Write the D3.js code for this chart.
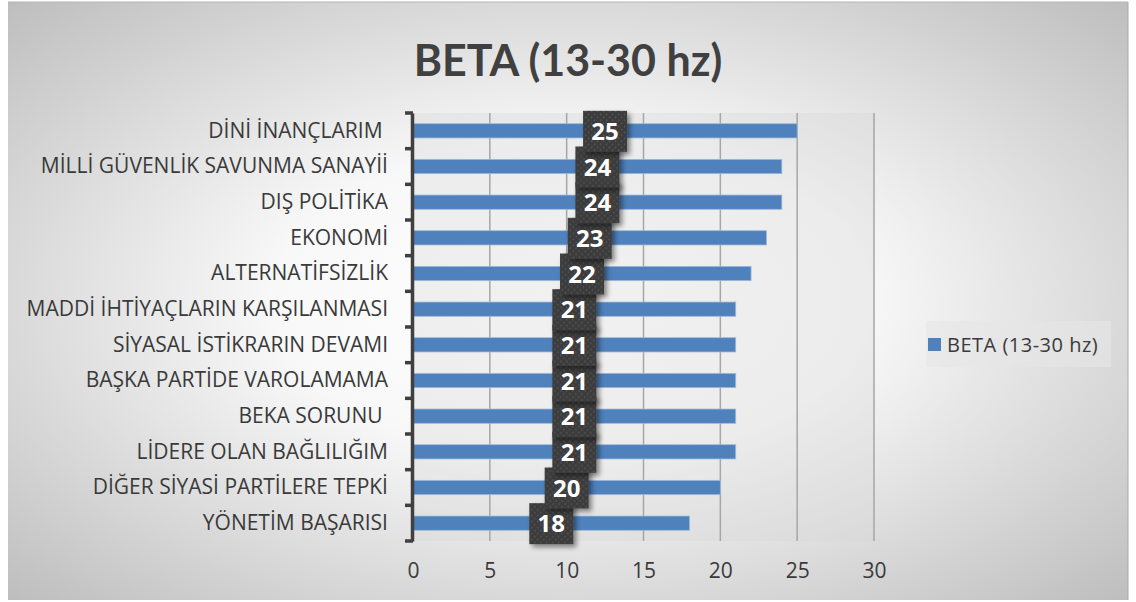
<!DOCTYPE html>
<html>
<head>
<meta charset="utf-8">
<script src="https://cdn.jsdelivr.net/npm/d3@7"></script>
<style>
  html, body { margin: 0; padding: 0; background: #ffffff; }
  svg { display: block; }
</style>
</head>
<body>
<svg id="chart" width="1136" height="602"></svg>
<script>
// Categories, top to bottom as shown
const categories = [
  "DİNİ İNANÇLARIM ",
  "MİLLİ GÜVENLİK SAVUNMA SANAYİİ",
  "DIŞ POLİTİKA",
  "EKONOMİ",
  "ALTERNATİFSİZLİK",
  "MADDİ İHTİYAÇLARIN KARŞILANMASI",
  "SİYASAL İSTİKRARIN DEVAMI",
  "BAŞKA PARTİDE VAROLAMAMA",
  "BEKA SORUNU ",
  "LİDERE OLAN BAĞLILIĞIM",
  "DİĞER SİYASİ PARTİLERE TEPKİ",
  "YÖNETİM BAŞARISI"
];
const values = [25, 24, 24, 23, 22, 21, 21, 21, 21, 21, 20, 18];
const xTicks = [0, 5, 10, 15, 20, 25, 30];
const seriesName = "BETA (13-30 hz)";
const chartTitle = "BETA (13-30 hz)";

const svg = d3.select("#chart");
const defs = svg.append("defs");

// Background: radial gradient, bright centre fading to grey edges
const rg = defs.append("radialGradient").attr("id", "bg")
  .attr("cx", "50%").attr("cy", "50%").attr("r", "75%");
rg.append("stop").attr("offset", "0%").attr("stop-color", "#ffffff");
rg.append("stop").attr("offset", "35%").attr("stop-color", "#f8f8f8");
rg.append("stop").attr("offset", "100%").attr("stop-color", "#b8b8b8");

// Dotted texture for the label boxes
const pat = defs.append("pattern").attr("id", "dots")
  .attr("width", 6).attr("height", 6).attr("patternUnits", "userSpaceOnUse");
pat.append("rect").attr("width", 6).attr("height", 6).attr("fill", "#3b3b3b");
pat.append("circle").attr("cx", 1.5).attr("cy", 1.5).attr("r", 0.9).attr("fill", "#565656");
pat.append("circle").attr("cx", 4.5).attr("cy", 4.5).attr("r", 0.9).attr("fill", "#565656");

const shadow = defs.append("filter").attr("id", "shadow")
  .attr("x", "-30%").attr("y", "-30%").attr("width", "170%").attr("height", "170%");
shadow.append("feDropShadow").attr("dx", 3).attr("dy", 3)
  .attr("stdDeviation", 2.5).attr("flood-color", "#000").attr("flood-opacity", 0.45);

// Chart frame
svg.append("rect").attr("x", 8).attr("y", 2).attr("width", 1120).attr("height", 598)
  .attr("fill", "url(#bg)");
svg.append("line").attr("x1", 1128).attr("x2", 1128).attr("y1", 2).attr("y2", 600)
  .attr("stroke", "#a9a9a9").attr("stroke-width", 1);
svg.append("line").attr("x1", 8).attr("x2", 1128).attr("y1", 2).attr("y2", 2)
  .attr("stroke", "#b5b5b5").attr("stroke-width", 1);

// Title
svg.append("text").attr("x", 568).attr("y", 76)
  .attr("text-anchor", "middle")
  .attr("font-family", "Lato, 'Open Sans', sans-serif")
  .attr("font-weight", 700).attr("font-size", 43)
  .attr("fill", "#404040")
  .text(chartTitle);

// Plot area
const plot = { left: 413, right: 874, top: 113, bottom: 541 };
const x = d3.scaleLinear().domain([0, 30]).range([plot.left, plot.right]);
const y = d3.scaleBand().domain(categories).range([plot.top, plot.bottom])
  .paddingInner(0.6).paddingOuter(0.3);
const yb = d3.scaleBand().domain(categories).range([plot.top, plot.bottom]);

svg.append("rect").attr("x", plot.left).attr("y", plot.top)
  .attr("width", plot.right - plot.left).attr("height", plot.bottom - plot.top)
  .attr("fill", "#d8d8d8").attr("fill-opacity", 0.35);

// Vertical gridlines
svg.append("g").selectAll("line").data(xTicks.slice(1)).join("line")
  .attr("x1", d => x(d)).attr("x2", d => x(d))
  .attr("y1", plot.top).attr("y2", plot.bottom)
  .attr("stroke", "#a6a6a6").attr("stroke-width", 1.5);

// Bars
svg.append("g").selectAll("rect").data(values).join("rect")
  .attr("x", x(0))
  .attr("y", (d, i) => y(categories[i]))
  .attr("width", d => x(d) - x(0))
  .attr("height", y.bandwidth())
  .attr("fill", "#4f81bd")
  .attr("stroke", "#9fb8d8").attr("stroke-width", 0.8);

// Category axis
const yAxis = d3.axisLeft(yb).tickSize(0).tickPadding(24);
const gy = svg.append("g").attr("transform", `translate(${plot.left - 1},0)`).call(yAxis);
gy.select(".domain").attr("stroke", "#404040").attr("stroke-width", 3.5);
gy.selectAll("text")
  .attr("font-family", "'Open Sans', sans-serif").attr("font-size", 21)
  .style("white-space", "pre")
  .attr("fill", "#3a3a3a");
// Boundary tick marks between categories
const bounds = categories.map(c => yb(c)).concat([plot.bottom]);
svg.append("g").selectAll("line").data(bounds).join("line")
  .attr("x1", plot.left - 8).attr("x2", plot.left)
  .attr("y1", d => d).attr("y2", d => d)
  .attr("stroke", "#404040").attr("stroke-width", 3.5);

// Value axis labels
const xAxis = d3.axisBottom(x).tickValues(xTicks).tickSize(0).tickPadding(22);
const gx = svg.append("g").attr("transform", `translate(0,${plot.bottom})`).call(xAxis);
gx.select(".domain").remove();
gx.selectAll("text")
  .attr("font-family", "'Open Sans', sans-serif").attr("font-size", 21)
  .attr("fill", "#3a3a3a");

// Data labels: dark boxes at the bar midpoint, drawn from the bottom up
const lab = svg.append("g");
const order = d3.range(values.length).reverse();
order.forEach(i => {
  const cx = x(values[i] / 2);
  const cy = y(categories[i]) + y.bandwidth() / 2;
  const g = lab.append("g").attr("transform", `translate(${cx},${cy})`);
  g.append("rect").attr("x", -22).attr("y", -20).attr("width", 44).attr("height", 41)
    .attr("fill", "url(#dots)").attr("filter", "url(#shadow)");
  g.append("text").attr("x", 0).attr("y", 9)
    .attr("text-anchor", "middle")
    .attr("font-family", "'Open Sans', sans-serif").attr("font-weight", 700)
    .attr("font-size", 24).attr("fill", "#ffffff")
    .text(values[i]);
});

// Legend
const lg = svg.append("g");
lg.append("rect").attr("x", 926).attr("y", 321).attr("width", 185).attr("height", 46)
  .attr("fill", "#e6e6e6").attr("fill-opacity", 0.6);
lg.append("rect").attr("x", 928).attr("y", 338).attr("width", 13).attr("height", 13)
  .attr("fill", "#4f81bd");
lg.append("text").attr("x", 947).attr("y", 352)
  .attr("font-family", "'Open Sans', sans-serif").attr("font-size", 20)
  .attr("letter-spacing", 0.5)
  .attr("fill", "#3a3a3a").text(seriesName);
</script>
</body>
</html>
